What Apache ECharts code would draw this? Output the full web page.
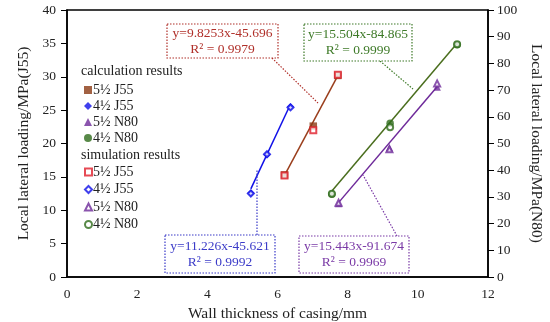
<!DOCTYPE html>
<html>
<head>
<meta charset="utf-8">
<script src="https://cdn.jsdelivr.net/npm/echarts@6/dist/echarts.min.js"></script>
<style>html,body{margin:0;padding:0;background:#fff;}#c{width:550px;height:322px;}</style>
</head>
<body>
<div id="c"></div>
<script>
// ---- data ----
var xTicks = [0, 2, 4, 6, 8, 10, 12];
var leftTicks = [0, 5, 10, 15, 20, 25, 30, 35, 40];
var rightTicks = [0, 10, 20, 30, 40, 50, 60, 70, 80, 90, 100];

var calc_55J55 = [[6.20, 15.3], [7.02, 22.6], [7.72, 30.2]];
var calc_45J55 = [[5.24, 12.6], [5.70, 18.3], [6.37, 25.5]];
var calc_55N80 = [[7.74, 27.5], [9.19, 48.4], [10.55, 71.2]];
var calc_45N80 = [[7.55, 31.0], [9.21, 57.6], [11.12, 87.0]];

var sim_55J55 = [[6.20, 15.2], [7.02, 22.0], [7.72, 30.3]];
var sim_45J55 = [[5.24, 12.5], [5.70, 18.4], [6.37, 25.4]];
var sim_55N80 = [[7.74, 27.8], [9.19, 47.8], [10.55, 72.5]];
var sim_45N80 = [[7.55, 31.2], [9.21, 56.1], [11.12, 87.2]];

// trendline coefficients [slope, intercept], r2
var fit_55J55 = [9.8253, -45.696, 0.9979];
var fit_45J55 = [11.226, -45.621, 0.9992];
var fit_55N80 = [15.443, -91.674, 0.9969];
var fit_45N80 = [15.504, -84.865, 0.9999];

var legendNames = ['5½ J55', '4½ J55', '5½ N80', '4½ N80'];

// ---- helpers ----
function trend(fit, pts) {
  var xs = pts.map(function (p) { return p[0]; });
  var a = Math.min.apply(null, xs), b = Math.max.apply(null, xs);
  return [[a, fit[0] * a + fit[1]], [b, fit[0] * b + fit[1]]];
}
function eqText(fit) {
  return 'y=' + fit[0] + 'x' + fit[1] + '\nR² = ' + fit[2];
}

var FONT = '"Liberation Serif", "Times New Roman", serif';
var cJ55a = '#8B3A14', cJ55b = '#E01E2A', cJ55line = '#9A3E1C';
var cBlue = '#1010E8';
var cPurple = '#6E2A9A';
var cGreen = '#2E6B1A', cGreenLine = '#4A6E1E';

var chart = echarts.init(document.getElementById('c'), null, {renderer: 'canvas'});

function scatter(name, data, yi, symbol, color, hollow) {
  return {
    name: name, type: 'scatter', data: data, yAxisIndex: yi,
    symbol: symbol, symbolSize: hollow ? 6 : 7.5, z: hollow ? 4 : 3,
    itemStyle: hollow ? {color: '#fff', borderColor: color, borderWidth: 2}
                      : {color: color},
    emphasis: {disabled: true}
  };
}
function line(data, yi, color) {
  return {
    type: 'line', data: data, yAxisIndex: yi, symbol: 'none', z: 2,
    lineStyle: {color: color, width: 1.5}, silent: true
  };
}

var series = [
  line(trend(fit_55J55, calc_55J55), 0, cJ55line),
  line(trend(fit_45J55, calc_45J55), 0, cBlue),
  line(trend(fit_55N80, calc_55N80), 1, cPurple),
  line(trend(fit_45N80, calc_45N80), 1, cGreenLine),
  scatter('c|' + legendNames[0], calc_55J55, 0, 'rect', cJ55a, false),
  scatter('c|' + legendNames[1], calc_45J55, 0, 'diamond', cBlue, false),
  scatter('c|' + legendNames[2], calc_55N80, 1, 'triangle', cPurple, false),
  scatter('c|' + legendNames[3], calc_45N80, 1, 'circle', cGreen, false),
  scatter('s|' + legendNames[0], sim_55J55, 0, 'rect', cJ55b, true),
  scatter('s|' + legendNames[1], sim_45J55, 0, 'diamond', cBlue, true),
  scatter('s|' + legendNames[2], sim_55N80, 1, 'triangle', cPurple, true),
  scatter('s|' + legendNames[3], sim_45N80, 1, 'circle', cGreen, true)
];

function legendCfg(prefix, top, size, gap) {
  return {
    orient: 'vertical', left: 79, top: top, itemGap: gap,
    itemWidth: size, itemHeight: size, selectedMode: false,
    data: legendNames.map(function (n) { return prefix + n; }),
    formatter: function (n) { return n.slice(2); },
    textStyle: {fontFamily: FONT, fontSize: 14, color: '#222', padding: [0, 0, 0, -4]}
  };
}

function box(x, y, w, h, color, fit, lx1, ly1, lx2, ly2) {
  return [
    {type: 'line', shape: {x1: lx1, y1: ly1, x2: lx2, y2: ly2},
     style: {stroke: color, lineWidth: 1.2, lineDash: [1.5, 1.5]}, z: 10},
    {type: 'rect', shape: {x: x, y: y, width: w, height: h},
     style: {fill: '#fff', stroke: color, lineWidth: 1.2, lineDash: [1.5, 1.5]}, z: 11},
    {type: 'text', x: x + w / 2, y: y + h / 2,
     style: {text: eqText(fit), fill: color, font: '13.5px ' + FONT,
             align: 'center', verticalAlign: 'middle', lineHeight: 16}, z: 12}
  ];
}

var graphics = [].concat(
  box(167, 24, 111, 34, '#B0302A', fit_55J55, 272, 58, 318, 103),
  box(304, 24, 108, 37, '#3E7A28', fit_45N80, 380, 61, 413, 89),
  box(165, 235, 110, 38, '#3B3BC8', fit_45J55, 257, 235, 257, 170),
  box(299, 236, 110, 37, '#7A3AA6', fit_55N80, 397, 236, 363, 175),
  [
    {type: 'text', left: 81, top: 64, style: {text: 'calculation results', font: '14px ' + FONT, fill: '#222'}},
    {type: 'text', left: 81, top: 148, style: {text: 'simulation results', font: '14px ' + FONT, fill: '#222'}}
  ]
);

var axisText = {fontFamily: FONT, fontSize: 13.5, color: '#222'};
var nameText = {fontFamily: FONT, fontSize: 15.5, color: '#222'};

chart.setOption({
  animation: false,
  backgroundColor: '#fff',
  grid: {left: 67, right: 62, top: 10, bottom: 45, containLabel: false, outerBoundsMode: 'none',
         show: true, borderColor: '#000', borderWidth: 1.5},
  legend: [legendCfg('c|', 78, 8, 2), legendCfg('s|', 160, 7, 3.5)],
  xAxis: {
    type: 'value', min: xTicks[0], max: xTicks[xTicks.length - 1], interval: 2,
    name: 'Wall thickness of casing/mm', nameLocation: 'middle', nameGap: 19,
    nameTextStyle: nameText,
    axisLine: {lineStyle: {color: '#000', width: 1.5}},
    axisTick: {show: false}, splitLine: {show: false},
    axisLabel: Object.assign({margin: 10}, axisText)
  },
  yAxis: [{
    type: 'value', min: leftTicks[0], max: leftTicks[leftTicks.length - 1], interval: 5,
    name: 'Local lateral loading/MPa(J55)', nameLocation: 'middle', nameGap: 35,
    nameTextStyle: nameText,
    axisLine: {show: true, lineStyle: {color: '#000', width: 1.5}},
    axisTick: {show: true, length: 6, lineStyle: {color: '#000'}},
    splitLine: {show: false},
    axisLabel: Object.assign({margin: 11}, axisText)
  }, {
    type: 'value', position: 'right', min: rightTicks[0], max: rightTicks[rightTicks.length - 1], interval: 10,
    name: 'Local lateral loading/MPa(N80)', nameLocation: 'middle', nameGap: 34,
    nameRotate: -90,
    nameTextStyle: nameText,
    axisLine: {show: true, lineStyle: {color: '#000', width: 1.5}},
    axisTick: {show: true, length: 6, lineStyle: {color: '#000'}},
    splitLine: {show: false},
    axisLabel: Object.assign({margin: 9}, axisText)
  }],
  graphic: graphics,
  series: series
});
</script>
</body>
</html>
